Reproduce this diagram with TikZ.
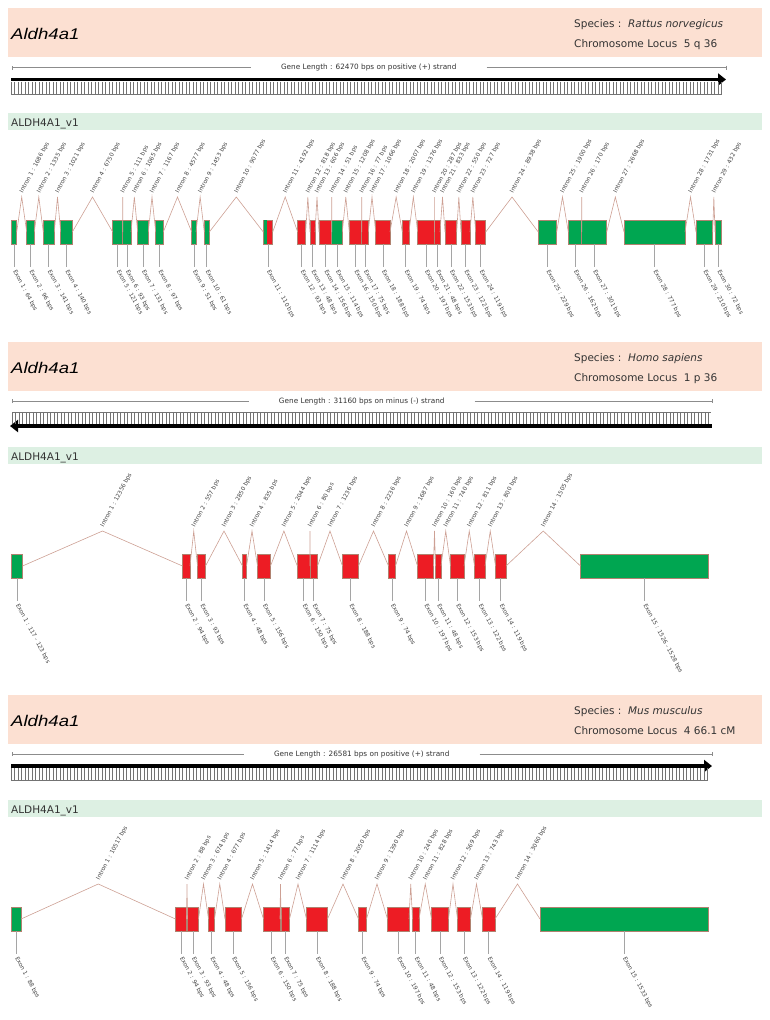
\documentclass[tikz,border=0pt]{standalone}
\usepackage{fontspec}
\setmainfont{DejaVu Sans}
\newfontfamily\titlefont[FakeStretch=1.2]{Liberation Sans}
\usetikzlibrary{calc,arrows.meta}

\definecolor{headpink}{RGB}{252,224,210}
\definecolor{barmint}{RGB}{221,240,227}
\definecolor{exgreen}{RGB}{0,166,81}
\definecolor{exred}{RGB}{237,28,36}
\definecolor{exedge}{RGB}{176,130,112}
\definecolor{intronc}{RGB}{205,160,148}
\definecolor{stemc}{RGB}{165,165,165}

\tikzset{
  exbox/.style={draw=exedge, line width=0.5pt, anchor=north west, inner sep=0pt, outer sep=0pt, minimum height=24pt},
  intr/.style={draw=intronc, line width=0.6pt},
  stem/.style={draw=stemc, line width=0.7pt},
  elabel/.style={anchor=west, rotate=-62, inner sep=0.5pt, text=black!75, font=\fontsize{5.8}{7}\selectfont},
  ilabel/.style={anchor=west, rotate=62, inner sep=0.5pt, text=black!75, font=\fontsize{5.8}{7}\selectfont},
  title/.style={anchor=base west, inner sep=0pt, font=\titlefont\itshape\fontsize{15.5}{18}\selectfont},
  species/.style={anchor=base west, inner sep=0pt, text=black!80, font=\fontsize{10.5}{12}\selectfont},
  varname/.style={anchor=base west, inner sep=0pt, text=black!80, font=\fontsize{10.5}{12}\selectfont},
  glen/.style={inner xsep=30pt, inner ysep=1pt, text=black!80, font=\fontsize{7.3}{8}\selectfont},
  rulerl/.style={draw=black!45, line width=0.5pt},
  combl/.style={draw=black!55, line width=0.45pt},
  plusarrow/.style={line width=3.4pt, -{Triangle[length=8pt,width=12pt]}},
  minusarrow/.style={line width=3.4pt, {Triangle[length=8pt,width=12pt]}-}
}

\newcommand{\rowtop}{220}
% colour, set, number, left, right, length
\newcommand{\exon}[6][exred]{\node[exbox, fill=#1, minimum width={(#5-#4)*1pt}] (#2#3) at (#4,\rowtop) {};
  \draw[stem] (#2#3.south) -- ++(0,23) coordinate (#2#3s);
  \node[elabel] (#2#3t) at ($(#2#3s)+(0,3)$) {Exon #3 : #6 bps}}
% set, from, to, length
\newcommand{\intron}[4]{\draw[intr] (#1#2.east) -- ($(#1#2.east)!.5!(#1#3.west)+(0,-35)$) coordinate (#1p#2) -- (#1#3.west);
  \node[ilabel] (#1i#2) at ($(#1p#2)+(-0.5,-4)$) {Intron #2 : #4 bps}}
% set, top, species, locus
\newcommand{\header}[4]{\fill[headpink] (8,#2+8) rectangle (762,#2+57);
  \node[title] (#1title) at (11,#2+39) {Aldh4a1};
  \node[species] (#1sp) at (574,#2+27.5) {Species :\ \ \textit{#3}};
  \node[species] (#1loc) at (574,#2+47.5) {Chromosome Locus\ \ #4};
  \fill[barmint] (8,#2+113) rectangle (762,#2+130);
  \node[varname] (#1var) at (11,#2+126) {ALDH4A1\_v1}}
% set, y, right end, text
\newcommand{\ruler}[4]{\coordinate (#1rl) at (11.5,#2);
  \coordinate (#1rr) at (#3,#2);
  \node[glen] (#1gl) at ($(#1rl)!.5!(#1rr)$) {Gene Length : #4};
  \draw[rulerl, {Bar[width=4pt]}-] (#1rl) -- (#1gl.west);
  \draw[rulerl, -{Bar[width=4pt]}] (#1gl.east) -- (#1rr)}

\begin{document}
\begin{tikzpicture}[x=1pt,y=-1pt]
\useasboundingbox (0,0) rectangle (769,1020);
%Rattus norvegicus
	\header{r}{0}{Rattus norvegicus}{5 q 36};
	\ruler{r}{67.5}{726}{62470 bps on positive (+) strand};
	\coordinate (ra0) at (11,79.5);
	\coordinate (ra1) at (726,79.5);
	\draw[plusarrow] (ra0) -- (ra1);
	\foreach \x in {11,14.5,...,722} \draw[combl] (\x,81.5) -- (\x,94);
	\draw[combl] (11,94) -- (722,94);
	\renewcommand{\rowtop}{220}
	\exon[exgreen]{r}{1}{11.5}{16.7}{64};
	\exon[exgreen]{r}{2}{26.7}{34.3}{96};
	\exon[exgreen]{r}{3}{43.3}{54.3}{141};
	\exon[exgreen]{r}{4}{60.7}{72.3}{140};
	\exon[exgreen]{r}{5}{112.7}{122.7}{121};
	\exon[exgreen]{r}{6}{122.7}{131}{93};
	\exon[exgreen]{r}{7}{137.7}{148.3}{131};
	\exon[exgreen]{r}{8}{155.7}{163.3}{97};
	\exon[exgreen]{r}{9}{191.7}{196}{51};
	\exon[exgreen]{r}{10}{204.3}{209.3}{61};
	\exon{r}{11}{263.3}{272.7}{110};
	\fill[exgreen] (263.6,220.3) rectangle (266.5,243.7);
	\exon{r}{12}{297.7}{305.7}{93};
	\exon{r}{13}{310}{315}{48};
	\exon{r}{14}{319}{331.7}{156};
	\exon[exgreen]{r}{15}{331.7}{342.3}{114};
	\exon{r}{16}{349.3}{361.7}{150};
	\exon{r}{17}{361.7}{368.3}{75};
	\exon{r}{18}{375.7}{390}{188};
	\exon{r}{19}{402.3}{409}{74};
	\exon{r}{20}{417.7}{434.3}{197};
	\exon{r}{21}{434.3}{440}{48};
	\exon{r}{22}{445}{456.7}{153};
	\exon{r}{23}{461}{470}{122};
	\exon{r}{24}{475.7}{485.7}{119};
	\exon[exgreen]{r}{25}{538.3}{556.7}{229};
	\exon[exgreen]{r}{26}{568.3}{581.7}{162};
	\exon[exgreen]{r}{27}{581.7}{606.7}{301};
	\exon[exgreen]{r}{28}{624}{685}{777};
	\exon[exgreen]{r}{29}{696}{712.7}{210};
	\exon[exgreen]{r}{30}{715}{721.7}{72};
	\intron{r}{1}{2}{1686};
	\intron{r}{2}{3}{1335};
	\intron{r}{3}{4}{1021};
	\intron{r}{4}{5}{6750};
	\intron{r}{5}{6}{111};
	\intron{r}{6}{7}{1065};
	\intron{r}{7}{8}{1167};
	\intron{r}{8}{9}{4577};
	\intron{r}{9}{10}{1453};
	\intron{r}{10}{11}{9077};
	\intron{r}{11}{12}{4192};
	\intron{r}{12}{13}{818};
	\intron{r}{13}{14}{606};
	\intron{r}{14}{15}{51};
	\intron{r}{15}{16}{1208};
	\intron{r}{16}{17}{77};
	\intron{r}{17}{18}{1066};
	\intron{r}{18}{19}{2007};
	\intron{r}{19}{20}{1376};
	\intron{r}{20}{21}{287};
	\intron{r}{21}{22}{833};
	\intron{r}{22}{23}{550};
	\intron{r}{23}{24}{727};
	\intron{r}{24}{25}{8938};
	\intron{r}{25}{26}{1900};
	\intron{r}{26}{27}{170};
	\intron{r}{27}{28}{2668};
	\intron{r}{28}{29}{1731};
	\intron{r}{29}{30}{432};
%Homo sapiens
	\header{h}{334}{Homo sapiens}{1 p 36};
	\ruler{h}{401}{712}{31160 bps on minus (-) strand};
	\coordinate (ha0) at (10,426);
	\coordinate (ha1) at (712,426);
	\draw[minusarrow] (ha0) -- (ha1);
	\foreach \x in {12,15.5,...,711} \draw[combl] (\x,412.5) -- (\x,424);
	\draw[combl] (12,412.5) -- (711,412.5);
	\renewcommand{\rowtop}{554}
	\exon[exgreen]{h}{1}{11.5}{22.5}{117 - 123};
	\exon{h}{2}{182.5}{190}{94};
	\exon{h}{3}{197.5}{205.5}{93};
	\exon{h}{4}{242.5}{246.5}{48};
	\exon{h}{5}{257.5}{270.5}{156};
	\exon{h}{6}{297.3}{310}{150};
	\exon{h}{7}{310}{317.5}{75};
	\exon{h}{8}{342.5}{358.5}{188};
	\exon{h}{9}{388.5}{395.5}{74};
	\exon{h}{10}{417.5}{433.5}{197};
	\exon{h}{11}{435.5}{441}{48};
	\exon{h}{12}{450.5}{464}{153};
	\exon{h}{13}{474.5}{485}{122};
	\exon{h}{14}{495.5}{506}{119};
	\exon[exgreen]{h}{15}{580.5}{708.5}{1526 - 1528};
	\intron{h}{1}{2}{12356};
	\intron{h}{2}{3}{557};
	\intron{h}{3}{4}{2850};
	\intron{h}{4}{5}{835};
	\intron{h}{5}{6}{2044};
	\intron{h}{6}{7}{80};
	\intron{h}{7}{8}{1236};
	\intron{h}{8}{9}{2236};
	\intron{h}{9}{10}{1687};
	\intron{h}{10}{11}{160};
	\intron{h}{11}{12}{740};
	\intron{h}{12}{13}{811};
	\intron{h}{13}{14}{800};
	\intron{h}{14}{15}{1505};
%Mus musculus
	\header{m}{687}{Mus musculus}{4 66.1 cM};
	\ruler{m}{754}{712}{26581 bps on positive (+) strand};
	\coordinate (ma0) at (11,766);
	\coordinate (ma1) at (712,766);
	\draw[plusarrow] (ma0) -- (ma1);
	\foreach \x in {11,14.5,...,708} \draw[combl] (\x,768) -- (\x,780);
	\draw[combl] (11,780) -- (708,780);
	\renewcommand{\rowtop}{907}
	\exon[exgreen]{m}{1}{11.5}{21}{88};
	\exon{m}{2}{175.5}{186.5}{94};
	\exon{m}{3}{187.5}{198.5}{93};
	\exon{m}{4}{208.5}{214.5}{48};
	\exon{m}{5}{225}{241.5}{156};
	\exon{m}{6}{263.5}{280}{150};
	\exon{m}{7}{281}{289.5}{75};
	\exon{m}{8}{306.5}{327.5}{188};
	\exon{m}{9}{358.5}{366.5}{74};
	\exon{m}{10}{387.5}{409}{197};
	\exon{m}{11}{412.5}{419}{48};
	\exon{m}{12}{431.5}{448.5}{153};
	\exon{m}{13}{457.5}{470.5}{122};
	\exon{m}{14}{482.5}{495}{119};
	\exon[exgreen]{m}{15}{540}{708}{1533};
	\intron{m}{1}{2}{10517};
	\intron{m}{2}{3}{88};
	\intron{m}{3}{4}{674};
	\intron{m}{4}{5}{677};
	\intron{m}{5}{6}{1414};
	\intron{m}{6}{7}{77};
	\intron{m}{7}{8}{1114};
	\intron{m}{8}{9}{2050};
	\intron{m}{9}{10}{1390};
	\intron{m}{10}{11}{240};
	\intron{m}{11}{12}{828};
	\intron{m}{12}{13}{569};
	\intron{m}{13}{14}{743};
	\intron{m}{14}{15}{3060};
\end{tikzpicture}
\end{document}
